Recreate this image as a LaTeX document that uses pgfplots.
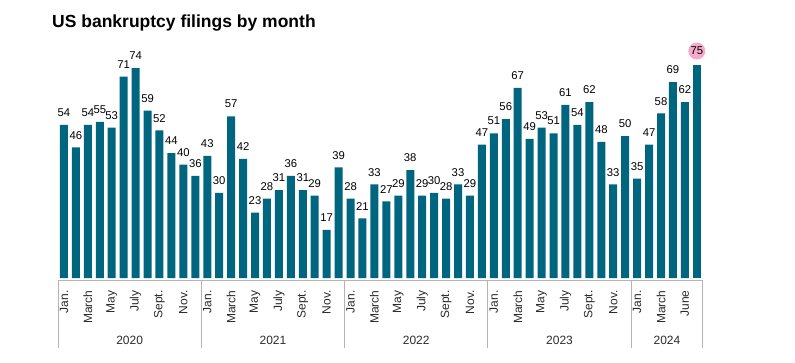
\documentclass[border=0pt]{standalone}
\usepackage{pgfplots}
\pgfplotsset{compat=1.18}
\usepackage{fontspec}
\setmainfont{Liberation Sans}
\definecolor{barteal}{HTML}{00657F}
\definecolor{hlpink}{HTML}{F5A9CB}
\definecolor{sepgray}{HTML}{B4B4B4}
\definecolor{lblgray}{HTML}{2A2A2A}
\begin{document}
\begin{tikzpicture}
\useasboundingbox (-58pt,-84pt) rectangle (737pt,278pt);
\begin{axis}[
  at={(0pt,0pt)}, anchor=south west,
  scale only axis,
  width=644.8pt, height=227pt,
  xmin=-0.5, xmax=53.5, ymin=0, ymax=80,
  /pgf/number format/assume math mode=true,
  axis line style={draw=none},
  ytick=\empty,
  xtick={0,2,4,6,8,10,12,14,16,18,20,22,24,26,28,30,32,34,36,38,40,42,44,46,48,50,52},
  xticklabels={Jan.,March,May,July,Sept.,Nov.,Jan.,March,May,July,Sept.,Nov.,Jan.,March,May,July,Sept.,Nov.,Jan.,March,May,July,Sept.,Nov.,Jan.,March,June},
  xtick style={draw=none},
  xticklabel style={rotate=90, anchor=east, inner sep=0pt, font=\fontsize{12}{13}\selectfont, text=lblgray},
  xticklabel shift=8pt,
  ybar, bar width=8pt, bar shift=0pt,
  clip=false,
]
\addplot[fill=barteal, draw=none,
  nodes near coords,
  every node near coord/.style={anchor=south, inner sep=0pt, yshift=8pt, font=\fontsize{11.3}{12}\selectfont, text=black}]
coordinates {
(0,54) (1,46) (2,54) (3,55) (4,53) (5,71) (6,74) (7,59) (8,52) (9,44) (10,40) (11,36)
(12,43) (13,30) (14,57) (15,42) (16,23) (17,28) (18,31) (19,36) (20,31) (21,29) (22,17) (23,39)
(24,28) (25,21) (26,33) (27,27) (28,29) (29,38) (30,29) (31,30) (32,28) (33,33) (34,29) (35,47)
(36,51) (37,56) (38,67) (39,49) (40,53) (41,51) (42,61) (43,54) (44,62) (45,48) (46,33) (47,50)
(48,35) (49,47) (50,58) (51,69) (52,62)
};
\addplot[fill=barteal, draw=none,
  nodes near coords,
  every node near coord/.style={anchor=south, circle, fill=hlpink, inner sep=0pt, minimum size=17pt, yshift=5.5pt, font=\fontsize{11.3}{12}\selectfont, text=black}]
coordinates {(53,75)};
% baseline and year separators
\draw[sepgray, line width=0.8pt] ([yshift=-2pt]axis cs:-0.5,0) -- ([yshift=-2pt]axis cs:53.5,0);
\draw[sepgray, line width=0.8pt] ([yshift=-2pt]axis cs:-0.5,0) -- ([yshift=-70pt]axis cs:-0.5,0);
\draw[sepgray, line width=0.8pt] ([yshift=-2pt]axis cs:11.5,0) -- ([yshift=-70pt]axis cs:11.5,0);
\draw[sepgray, line width=0.8pt] ([yshift=-2pt]axis cs:23.5,0) -- ([yshift=-70pt]axis cs:23.5,0);
\draw[sepgray, line width=0.8pt] ([yshift=-2pt]axis cs:35.5,0) -- ([yshift=-70pt]axis cs:35.5,0);
\draw[sepgray, line width=0.8pt] ([yshift=-2pt]axis cs:47.5,0) -- ([yshift=-70pt]axis cs:47.5,0);
\draw[sepgray, line width=0.8pt] ([yshift=-2pt]axis cs:53.5,0) -- ([yshift=-70pt]axis cs:53.5,0);
\node[anchor=base, font=\fontsize{12}{14}\selectfont, text=lblgray] at ([yshift=-66pt]axis cs:5.5,0) {2020};
\node[anchor=base, font=\fontsize{12}{14}\selectfont, text=lblgray] at ([yshift=-66pt]axis cs:17.5,0) {2021};
\node[anchor=base, font=\fontsize{12}{14}\selectfont, text=lblgray] at ([yshift=-66pt]axis cs:29.5,0) {2022};
\node[anchor=base, font=\fontsize{12}{14}\selectfont, text=lblgray] at ([yshift=-66pt]axis cs:41.5,0) {2023};
\node[anchor=base, font=\fontsize{12}{14}\selectfont, text=lblgray] at ([yshift=-66pt]axis cs:50.5,0) {2024};
\end{axis}
\node[anchor=base west, inner sep=0pt, font=\bfseries\fontsize{17.5}{20}\selectfont] at (-6pt,250.5pt) {US bankruptcy filings by month};
\end{tikzpicture}
\end{document}
